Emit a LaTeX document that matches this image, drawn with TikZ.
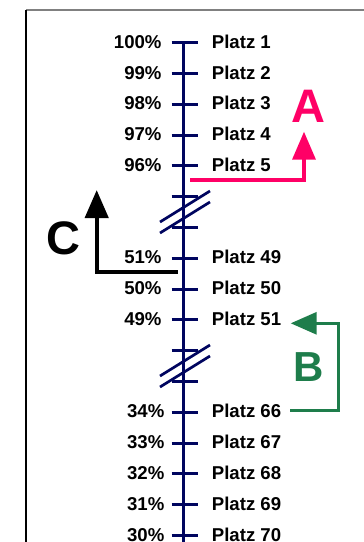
\documentclass[tikz,border=0pt]{standalone}
\usepackage{fontspec}
\setmainfont{Liberation Sans}
\usetikzlibrary{arrows.meta}
\definecolor{navy}{RGB}{0,5,95}
\definecolor{pinkA}{RGB}{255,0,102}
\definecolor{greenB}{RGB}{30,125,75}
\definecolor{framegray}{RGB}{128,128,128}
\tikzset{
  axisline/.style={draw=navy,line width=3pt},
  tickline/.style={draw=navy,line width=3pt},
  breakline/.style={draw=navy,line width=2.7pt},
  pct/.style={anchor=base east,inner sep=0pt,font=\bfseries\fontsize{18.6}{20}\selectfont},
  plz/.style={anchor=base west,inner sep=0pt,font=\bfseries\fontsize{18.6}{20}\selectfont},
  letter/.style={anchor=base,inner sep=0pt,font=\bfseries\fontsize{47}{50}\selectfont},
  arrowA/.style={draw=pinkA,line width=3.5pt,-{Triangle[length=28pt,width=23pt]}},
  arrowB/.style={draw=greenB,line width=3pt,-{Triangle[length=26pt,width=22pt]}},
  arrowC/.style={draw=black,line width=4.3pt,-{Triangle[length=28pt,width=23pt]}},
}
\begin{document}
\begin{tikzpicture}[x=1pt,y=-1pt]
\useasboundingbox (0,0) rectangle (364,542);
% frame
\coordinate (fc) at (26,10);
\coordinate (fr) at (370,10);
\coordinate (fb) at (26,550);
\draw[framegray,line width=2.4pt] (fc) -- (fr);
\draw[black,line width=1.6pt] (fc) -- (fb);
% axis
\coordinate (axtop) at (183,41.2);
\coordinate (axbot) at (183,560);
\draw[axisline] (axtop) -- (axbot);
% ticks
\foreach \i in {0,...,16}{
  \pgfmathsetmacro{\yy}{42.7+30.8*\i}
  \coordinate (tl\i) at (171.5,\yy);
  \coordinate (tr\i) at (197.5,\yy);
  \draw[tickline] (tl\i) -- (tr\i);
}
% labels
\foreach \i/\p/\n/\px in {0/100/1/161.7,1/99/2/161.7,2/98/3/161.7,3/97/4/161.7,4/96/5/161.7,
  7/51/49/161.7,8/50/50/161.7,9/49/51/161.7,
  12/34/66/164.5,13/33/67/164.5,14/32/68/164.5,15/31/69/164.5,16/30/70/164.5}{
  \pgfmathsetmacro{\yb}{42.7+30.8*\i+5.5}
  \node[pct] (p\i) at (\px,\yb) {\p\%};
  \node[plz] (n\i) at (211.7,\yb) {Platz \n};
}
% break marks
\foreach \k/\dy in {1/0,2/154}{
  \coordinate (sa\k) at (160,222+\dy);
  \coordinate (sb\k) at (210,191+\dy);
  \coordinate (sc\k) at (160,233+\dy);
  \coordinate (sd\k) at (210,202+\dy);
  \draw[breakline] (sa\k) -- (sb\k);
  \draw[breakline] (sc\k) -- (sd\k);
}
% arrow A
\coordinate (a0) at (190,180);
\coordinate (a1) at (304,180);
\coordinate (a2) at (304,131.7);
\draw[arrowA] (a0) -- (a1) -- (a2);
\node[letter,text=pinkA] (lA) at (308,122.7) {A};
% arrow B
\coordinate (b0) at (290,410);
\coordinate (b1) at (338.3,410);
\coordinate (b2) at (338.3,323.3);
\coordinate (b3) at (290.7,323.3);
\draw[arrowB] (b0) -- (b1) -- (b2) -- (b3);
\node[letter,text=greenB,font=\bfseries\fontsize{42}{45}\selectfont] (lB) at (308.7,381.7) {B};
% arrow C
\coordinate (c0) at (177.7,272);
\coordinate (c1) at (96.7,272);
\coordinate (c2) at (96.7,190);
\draw[arrowC] (c0) -- (c1) -- (c2);
\node[letter,text=black] (lC) at (63.3,254) {C};
\end{tikzpicture}
\end{document}
